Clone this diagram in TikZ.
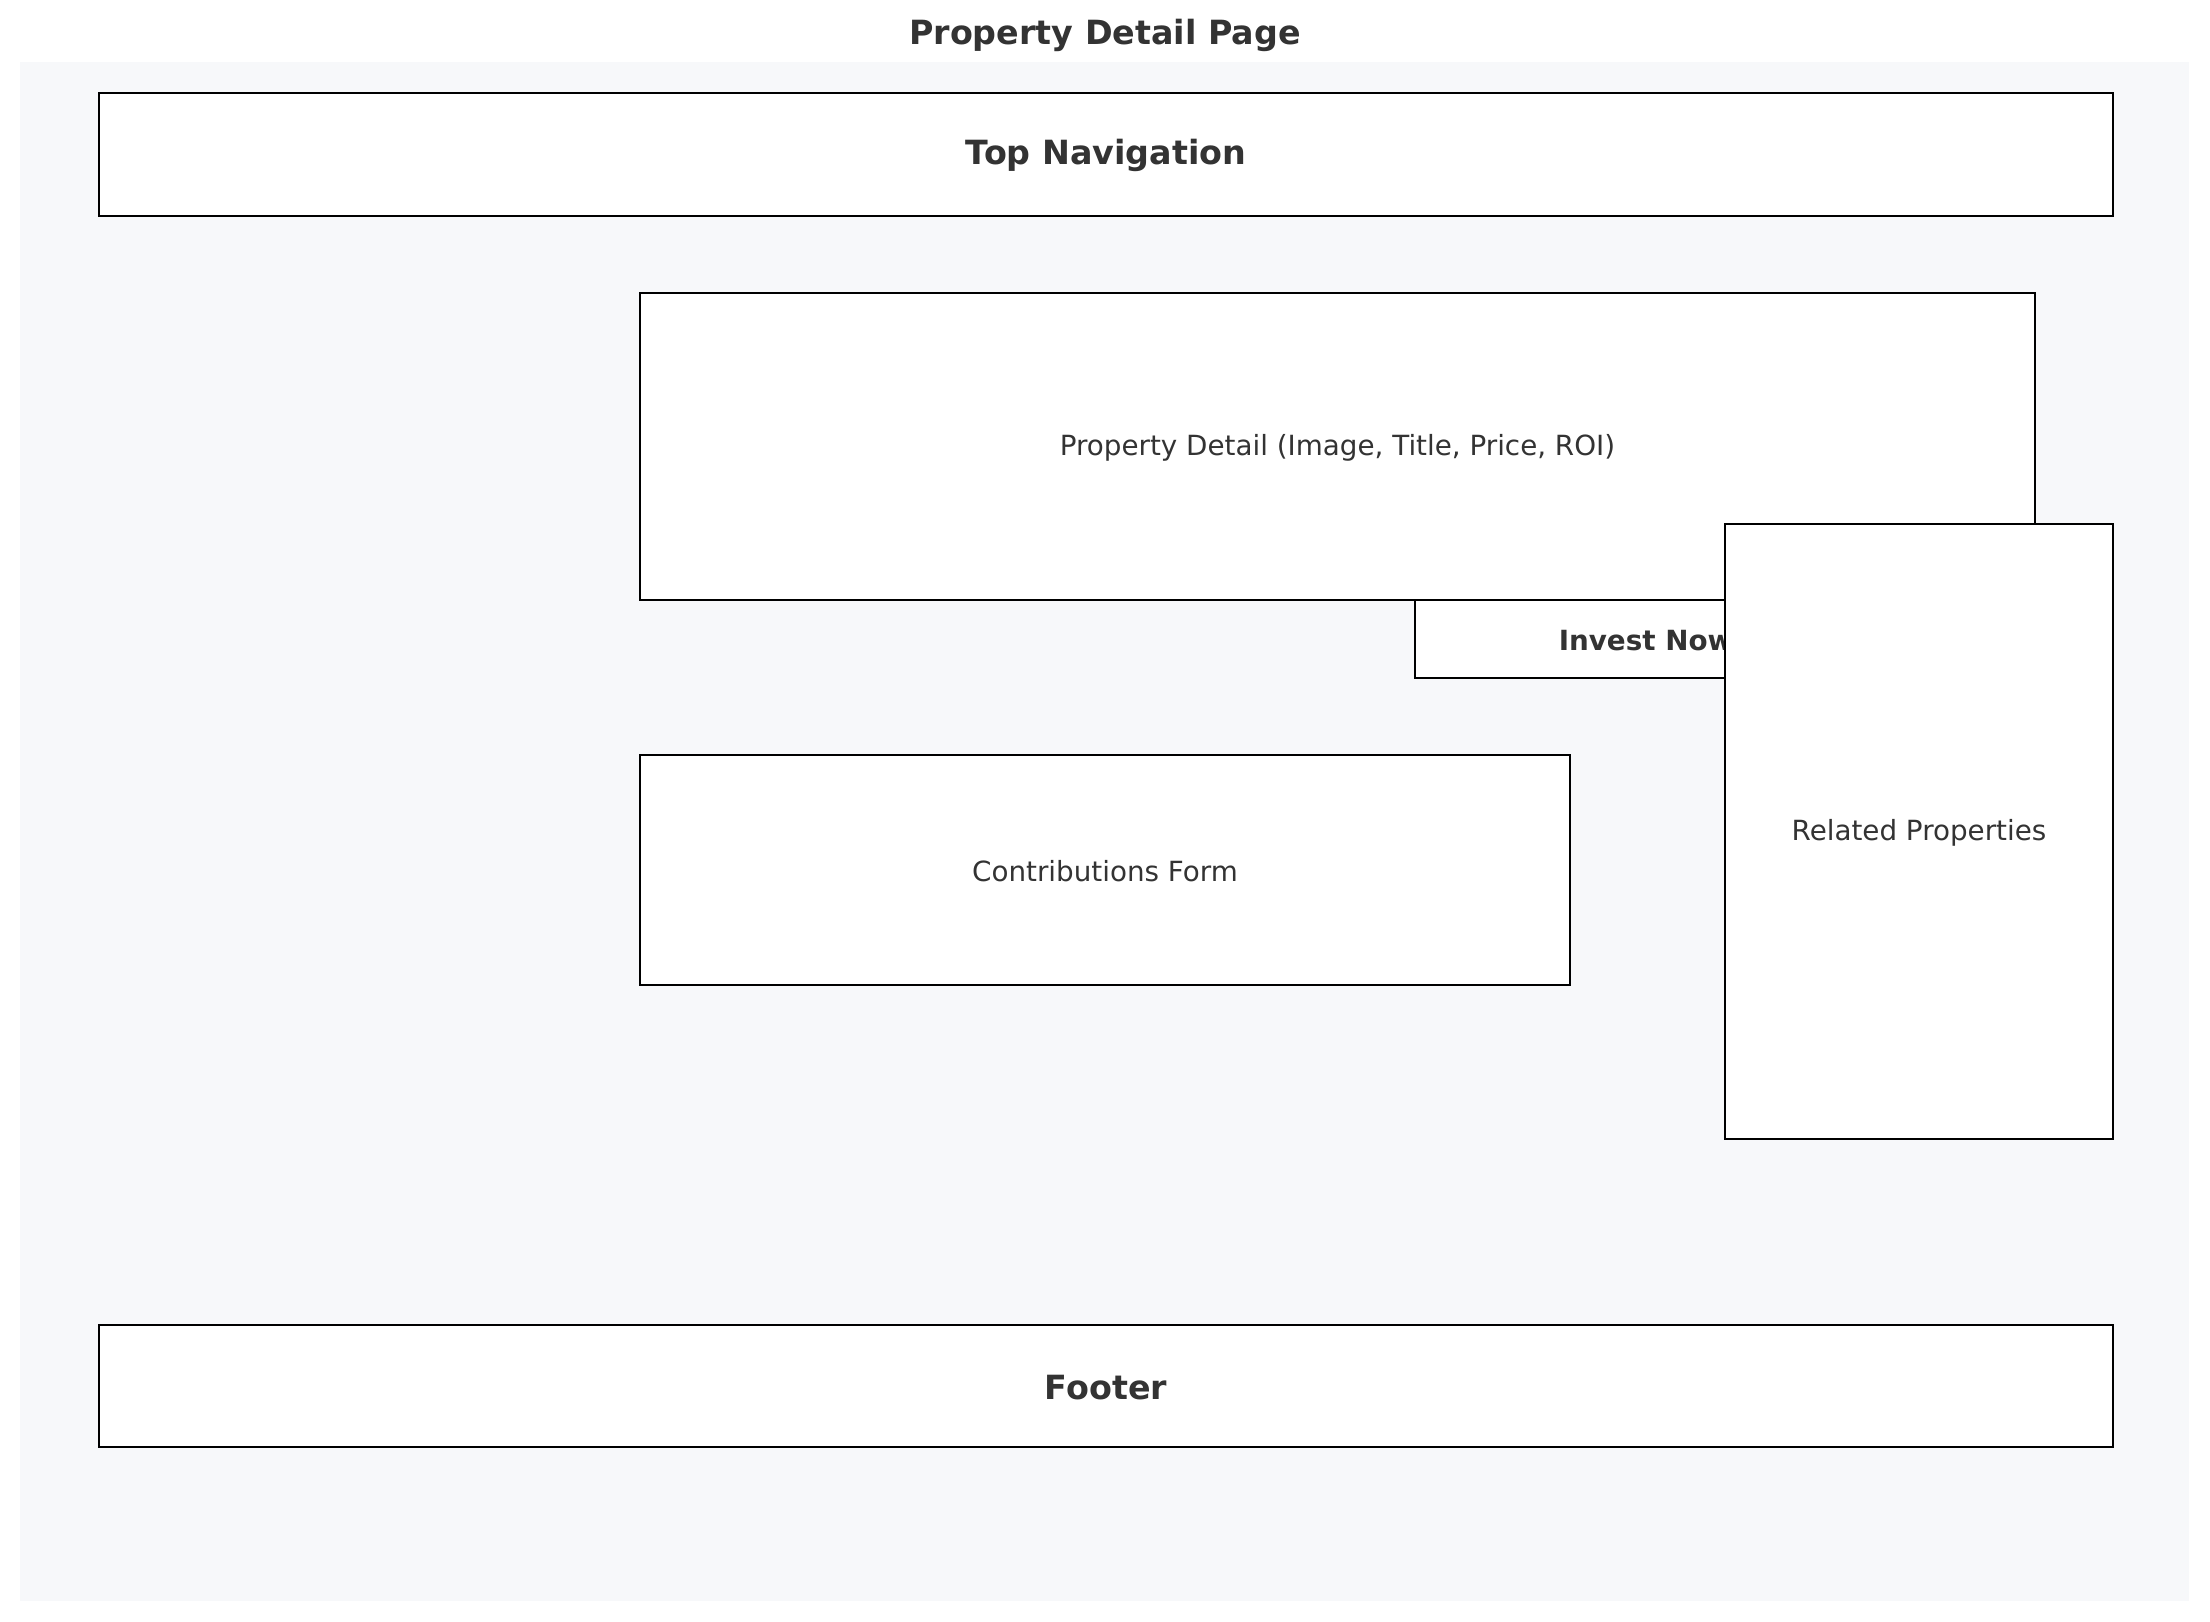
\documentclass[tikz,border=0pt]{standalone}
\usepackage{fontspec}
\setmainfont{DejaVu Sans}
\definecolor{bgpage}{HTML}{F7F8FA}
\definecolor{txt}{HTML}{333333}
\tikzset{
  box/.style={draw=black, fill=white, line width=1.05pt, text=txt, font=\fontsize{10}{12}\selectfont},
  boldbox/.style={box, font=\bfseries\fontsize{12}{14}\selectfont},
  lbl/.style={midway, yshift=-0.4pt},
}
\begin{document}
\begin{tikzpicture}[x=0.36pt, y=-0.36pt]
\useasboundingbox (0,0) rectangle (2210,1622);
\fill[bgpage] (20,62) rectangle (2189,1601);
\node[text=txt, font=\bfseries\fontsize{12}{14}\selectfont, yshift=-0.6pt] (title) at (1105,34) {Property Detail Page};
\draw[boldbox] (99,93) rectangle (2113,216) node[lbl] (nav) {Top Navigation};
\draw[box] (640,293) rectangle (2035,600) node[lbl] (detail) {Property Detail (Image, Title, Price, ROI)};
\draw[box] (1415,600) rectangle (1877,678) node[lbl, font=\bfseries\fontsize{10}{12}\selectfont] (invest) {Invest Now};
\draw[box] (640,755) rectangle (1570,985) node[lbl] (contrib) {Contributions Form};
\draw[box] (1725,524) rectangle (2113,1139) node[lbl] (related) {Related Properties};
\draw[boldbox] (99,1325) rectangle (2113,1447) node[lbl] (footer) {Footer};
\end{tikzpicture}
\end{document}
